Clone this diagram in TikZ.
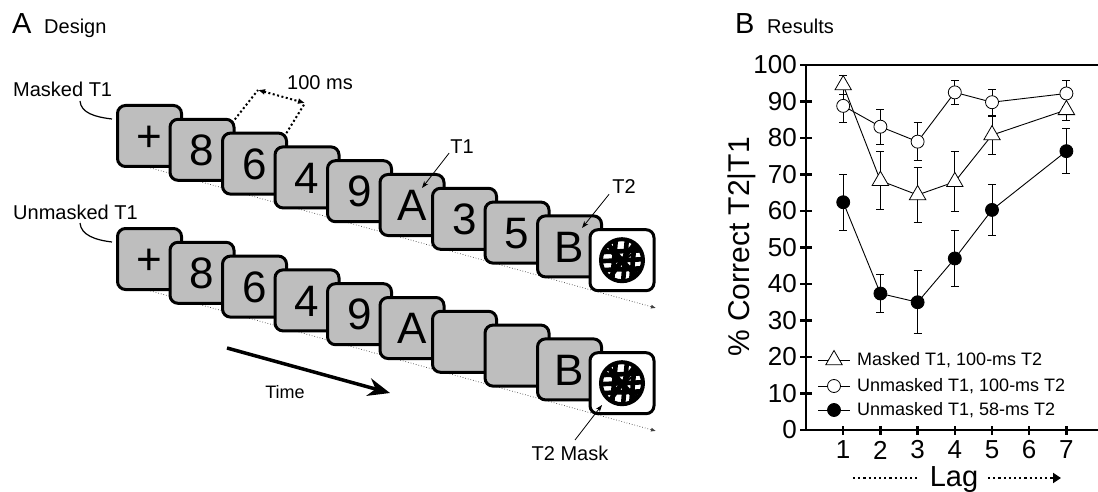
\documentclass[tikz,border=0pt]{standalone}
\usepackage{fontspec}
\setmainfont{Liberation Sans}
\usetikzlibrary{arrows.meta,shapes.geometric}
\definecolor{cardgray}{RGB}{190,190,190}
\newcommand{\myfs}[1]{\fontsize{#1}{#1}\selectfont}
\newcommand{\masksym}[1]{%
  \begin{scope}[shift={(#1.center)}]
    \begin{scope}
      \clip (0,0) circle (20pt);
      \draw[line width=4.6pt] (-22,-8)--(22,-10) (-22,1)--(22,-1) (-22,10)--(22,8)
        (-6,-22)--(-10,22) (5,-22)--(1,22) (13,-22)--(9,22)
        (-14,-16)--(14,16) (13,-17)--(-12,17);
      \draw[line width=2pt] (-20,-14)--(20,16) (-20,15)--(20,-13);
    \end{scope}
    \draw[line width=4pt] (0,0) circle (21pt);
  \end{scope}}
\begin{document}
\begin{tikzpicture}[x=1pt,y=-1pt,
  card/.style={draw, line width=3pt, rounded corners=8pt, fill=cardgray,
    minimum width=64pt, minimum height=61pt, inner sep=0pt, font=\myfs{44},
    text height=31.5pt, text depth=0pt},
  maskcard/.style={card, fill=white},
  lbl/.style={font=\myfs{20}, inner sep=0pt},
  big/.style={font=\myfs{29}, inner sep=0pt},
  pointer/.style={line width=0.8pt, -{Stealth[length=7pt,width=5pt]}},
  baseln/.style={line width=0.7pt, dotted, black!75, -{Latex[length=5pt,width=4pt]}},
  brk/.style={line width=2pt, dash pattern=on 2pt off 2.5pt},
  axis/.style={line width=2.5pt},
  ticklbl/.style={font=\myfs{26}, inner sep=0pt},
  dline/.style={line width=0.9pt},
  ebar/.style={line width=0.9pt},
  tri/.style={regular polygon, regular polygon sides=3, draw, fill=white,
    inner sep=0pt, minimum size=19pt, line width=0.8pt},
  ocirc/.style={circle, draw, fill=white, minimum size=13pt, inner sep=0pt, line width=0.8pt},
  fcirc/.style={circle, draw, fill=black, minimum size=13pt, inner sep=0pt, line width=0.8pt},
  legtxt/.style={font=\myfs{18}, inner sep=0pt, anchor=west},
  lagdot/.style={line width=2.6pt, dash pattern=on 2.2pt off 3pt}
]
\useasboundingbox (0,0) rectangle (1098,492);

% ---------- Panel A ----------
\node[big, anchor=base west] (Aletter) at (12,34) {A};
\node[lbl, anchor=base west] (Atitle) at (44,34) {Design};

% dotted time baselines (behind the cards)
\coordinate (tls) at (140,165);
\coordinate (tle) at (656,308);
\coordinate (bls) at (140,288);
\coordinate (ble) at (656,431);
\draw[baseln] (tls) -- (tle);
\draw[baseln] (bls) -- (ble);

% top row
\foreach \c [count=\i from 0] in {+,8,6,4,9,A,3,5,B}{
  \node[card] (t\i) at ({149.5+52.5*\i},{136+13.8*\i}) {\c};
}
\node[maskcard] (t9) at ({149.5+52.5*9},{136+13.8*9}) {};
\masksym{t9}

% bottom row
\foreach \c [count=\i from 0] in {+,8,6,4,9,A,{},{},B}{
  \node[card] (b\i) at ({149.5+52.5*\i},{259+13.8*\i}) {\c};
}
\node[maskcard] (b9) at ({149.5+52.5*9},{259+13.8*9}) {};
\masksym{b9}

% condition labels
\node[lbl, anchor=base west] (mT1) at (13,97) {Masked T1};
\node[lbl, anchor=base west] (uT1) at (13,219) {Unmasked T1};
\coordinate (mc1) at (80,101);
\coordinate (mc2) at (112,119);
\coordinate (uc1) at (80,223);
\coordinate (uc2) at (112,242);
\draw[line width=1.2pt] (mc1) .. controls (81,113) and (95,117) .. (mc2);
\draw[line width=1.2pt] (uc1) .. controls (81,235) and (95,240) .. (uc2);

% 100 ms bracket
\coordinate (k1) at (232,123);
\coordinate (k2) at (258,90);
\coordinate (k3) at (284,137);
\coordinate (k4) at (305,103);
\draw[brk] (k1) -- (k2);
\draw[brk] (k3) -- (k4);
\draw[brk, {Latex[length=7pt,width=6pt]}-{Latex[length=7pt,width=6pt]}] (k2) -- (k4);
\node[lbl] (ms) at (320,83) {100 ms};

% T1 / T2 / mask pointers
\node[lbl] (lT1) at (462,147) {T1};
\coordinate (pT1) at (422,188);
\draw[pointer] (lT1.south west) ++(-1,-1) coordinate (sT1) -- (pT1);
\node[lbl] (lT2) at (624,187) {T2};
\coordinate (pT2) at (582,228);
\draw[pointer] (lT2.south west) ++(-3,0) coordinate (sT2) -- (pT2);
\node[lbl] (lTM) at (570,453) {T2 Mask};
\coordinate (sTM) at (575,440);
\coordinate (pTM) at (602,405);
\draw[pointer] (sTM) -- (pTM);

% time arrow
\coordinate (ts) at (227,348);
\coordinate (te) at (390,393);
\draw[line width=3.5pt, -{Stealth[length=22pt,width=18pt]}] (ts) -- (te);
\node[font=\myfs{18}, inner sep=0pt] (time) at (285,392) {Time};

% ---------- Panel B ----------
\node[big, anchor=base west] (Bletter) at (735,34) {B};
\node[lbl, anchor=base west] (Btitle) at (767,34) {Results};

\node[font=\myfs{30}, inner sep=0pt, rotate=90] (ylab) at (742,247) {\% Correct T2|T1};

\begin{scope}[shift={(806,430)}, x=37.2pt, y=3.65pt]
  \draw[axis] (7.85,100) -- (0,100) -- (0,0) -- (7.85,0);
  \foreach \v in {0,10,...,100}{
    \draw[axis] ([xshift=-6pt]0,\v) -- ([xshift=6pt]0,\v);
    \node[ticklbl, anchor=east] (yl\v) at ([xshift=-9pt]0,\v) {\v};
  }
  \foreach \l in {1,...,7}{
    \draw[axis] ([yshift=4pt]\l,0) -- ([yshift=-5pt]\l,0);
    \node[ticklbl] (xl\l) at ([yshift=-20pt]\l,0) {\l};
  }
  % data coordinates and error bars
  \foreach \s/\data in {
      ta/{1/94.5/2.5,2/68.3/7.9,3/64.4/7.4,4/68/8.2,5/80.8/5.2,7/87.7/3},
      ca/{1/88.8/4.5,2/83.1/4.8,3/79/5.2,4/92.5/3.4,5/89.8/3.5,7/92.2/3.6},
      fa/{1/62.4/7.6,2/37.4/5.3,3/35/8.6,4/47/7.8,5/60.3/6.9,7/76.4/6.1}}{
    \foreach \l/\v/\e [count=\k] in \data {
      \coordinate (\s\k) at (\l,\v);
      \draw[ebar] (\l,{\v-\e}) -- (\l,{\v+\e});
      \draw[ebar] ([xshift=-4pt]\l,{\v-\e}) -- ([xshift=4pt]\l,{\v-\e});
      \draw[ebar] ([xshift=-4pt]\l,{\v+\e}) -- ([xshift=4pt]\l,{\v+\e});
    }
  }
  \draw[dline] (ta1) -- (ta2) -- (ta3) -- (ta4) -- (ta5) -- (ta6);
  \draw[dline] (ca1) -- (ca2) -- (ca3) -- (ca4) -- (ca5) -- (ca6);
  \draw[dline] (fa1) -- (fa2) -- (fa3) -- (fa4) -- (fa5) -- (fa6);
  \foreach \k in {1,...,6}{
    \node[tri] (mt\k) at (ta\k) {};
  }
  \foreach \k in {1,...,6}{
    \node[ocirc] (mc\k) at (ca\k) {};
  }
  \foreach \k in {1,...,6}{
    \node[fcirc] (mf\k) at (fa\k) {};
  }
\end{scope}

% legend
\coordinate (lg1a) at (818,360); \coordinate (lg1b) at (850,360);
\coordinate (lg2a) at (818,386); \coordinate (lg2b) at (850,386);
\coordinate (lg3a) at (818,410); \coordinate (lg3b) at (850,410);
\draw[dline] (lg1a) -- (lg1b);
\draw[dline] (lg2a) -- (lg2b);
\draw[dline] (lg3a) -- (lg3b);
\node[tri] (lgm1) at (834,360) {};
\node[ocirc] (lgm2) at (834,386) {};
\node[fcirc] (lgm3) at (834,410) {};
\node[legtxt] (lgt1) at (857,360) {Masked T1, 100-ms T2};
\node[legtxt] (lgt2) at (857,386) {Unmasked T1, 100-ms T2};
\node[legtxt] (lgt3) at (857,410) {Unmasked T1, 58-ms T2};

% Lag axis title
\node[font=\myfs{29}, inner sep=0pt, anchor=base] (lag) at (954,486) {Lag};
\coordinate (ld1) at (853,478); \coordinate (ld2) at (917,478);
\coordinate (ld3) at (988,478); \coordinate (ld4) at (1061,478);
\draw[lagdot] (ld1) -- (ld2);
\draw[lagdot, -{Triangle[length=8pt,width=10pt]}] (ld3) -- (ld4);
\end{tikzpicture}
\end{document}
